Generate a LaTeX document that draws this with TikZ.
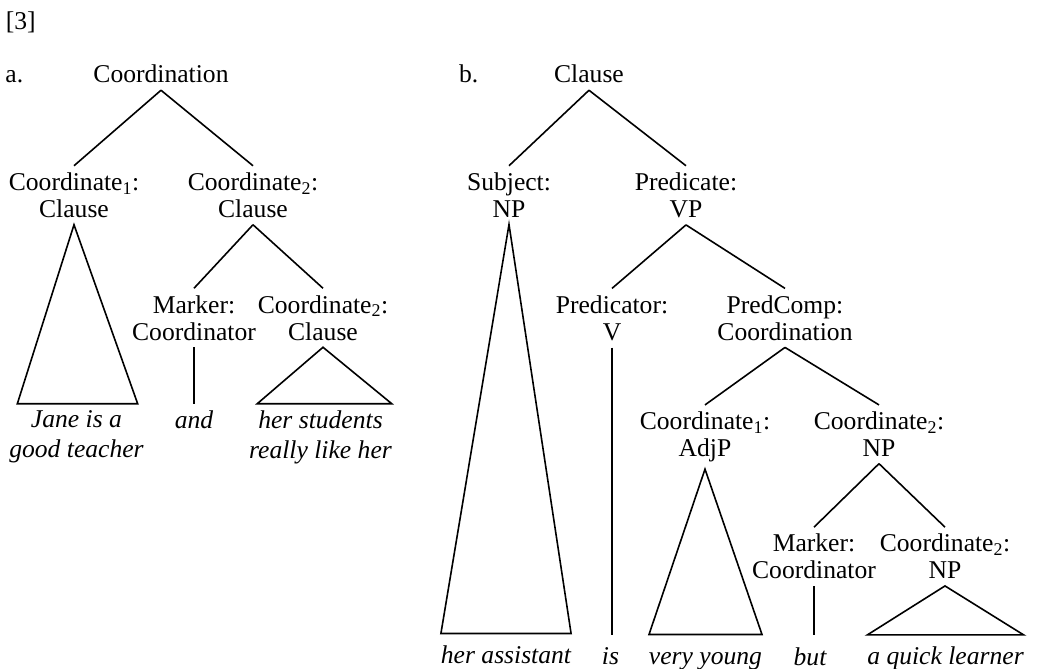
\documentclass[tikz,border=0pt]{standalone}
\usepackage{fontspec}
\setmainfont{Liberation Serif}
\usepackage{tikz}
\usetikzlibrary{positioning}

\tikzset{
  syn/.style={align=center, inner xsep=0pt, inner ysep=7pt, outer sep=0pt},
  leaf/.style={align=center, inner xsep=0pt, inner ysep=7pt, outer sep=0pt,
    font=\fontsize{25.6}{30}\selectfont\itshape},
  word/.style={leaf, text height=17.5pt, text depth=5.5pt, inner ysep=12.5pt}
}

\begin{document}
\begin{tikzpicture}[x=1pt, y=1pt, line width=1.6pt,
    every node/.style={font=\fontsize{25.6}{27}\selectfont}]
    \useasboundingbox (0,0) rectangle (1037,-669);
    \node[anchor=base west, inner sep=0pt] (num) at (5,-29.5) {[3]};

    % tree a
    \node[syn, anchor=base] (rootA) at (161,-83) {Coordination};
    \node[inner sep=0pt, base left=69.5pt of rootA] (tagA) {a.};
    \node[syn, below=75.5pt of rootA, xshift=-87pt] (coordA) {Coordinate\textsubscript{1}:\\Clause};
    \node[syn, below=75.5pt of rootA, xshift=92pt] (coordB) {Coordinate\textsubscript{2}:\\Clause};
    \node[syn, below=63.5pt of coordB, xshift=-59pt] (markA) {Marker:\\Coordinator};
    \node[syn, below=63.5pt of coordB, xshift=70pt] (coordC) {Coordinate\textsubscript{2}:\\Clause};
    \node[leaf, below=179pt of coordA, xshift=2.5pt] (jane) {Jane is a\\good teacher};
    \node[word, inner ysep=7pt, below=56.5pt of markA] (and) {and};
    \node[leaf, below=56.5pt of coordC, xshift=-2.5pt] (studs) {her students\\really like her};

    \draw (rootA.south) -- (coordA.north);
    \draw (rootA.south) -- (coordB.north);
    \draw (coordB.south) -- (markA.north);
    \draw (coordB.south) -- (coordC.north);
    \draw (coordA.south) -- ([xshift=8pt]jane.north west) -- ([xshift=-6pt]jane.north east) -- cycle;
    \draw (markA.south) -- (markA.south |- and.north);
    \draw (coordC.south) -- ([xshift=8pt]studs.north west) -- (studs.north east) -- cycle;

    % tree b
    \node[syn, anchor=base] (rootB) at (589,-83) {Clause};
    \node[inner sep=0pt, base left=75pt of rootB] (tagB) {b.};
    \node[syn, below=75.5pt of rootB, xshift=-80pt] (subj) {Subject:\\NP};
    \node[syn, below=75.5pt of rootB, xshift=97pt] (pred) {Predicate:\\VP};
    \node[syn, below=63.5pt of pred, xshift=-74pt] (predtor) {Predicator:\\V};
    \node[syn, below=63.5pt of pred, xshift=99pt] (pcomp) {PredComp:\\Coordination};
    \node[syn, below=57.5pt of pcomp, xshift=-80pt] (coordD) {Coordinate\textsubscript{1}:\\AdjP};
    \node[syn, below=57.5pt of pcomp, xshift=94pt] (coordE) {Coordinate\textsubscript{2}:\\NP};
    \node[syn, below=63.5pt of coordE, xshift=-65pt] (markB) {Marker:\\Coordinator};
    \node[syn, below=63.5pt of coordE, xshift=66pt] (coordF) {Coordinate\textsubscript{2}:\\NP};
    \node[word, below=409pt of subj, xshift=-3pt] (assist) {her assistant};
    \node[word, below=287pt of predtor, xshift=-1.5pt] (is) {is};
    \node[word, below=165.4pt of coordD, xshift=0.5pt] (young) {very young};
    \node[word, below=49pt of markB, xshift=-4pt] (but) {but};
    \node[word, below=49pt of coordF, xshift=0.5pt] (learner) {a quick learner};

    \draw (rootB.south) -- (subj.north);
    \draw (rootB.south) -- (pred.north);
    \draw (pred.south) -- (predtor.north);
    \draw (pred.south) -- (pcomp.north);
    \draw (pcomp.south) -- (coordD.north);
    \draw (pcomp.south) -- (coordE.north);
    \draw (coordE.south) -- (markB.north);
    \draw (coordE.south) -- (coordF.north);
    \draw (subj.south) -- (assist.north west) -- (assist.north east) -- cycle;
    \draw (predtor.south) -- (predtor.south |- is.north);
    \draw (coordD.south) -- (young.north west) -- (young.north east) -- cycle;
    \draw (markB.south) -- (markB.south |- but.north);
    \draw (coordF.south) -- (learner.north west) -- (learner.north east) -- cycle;
\end{tikzpicture}
\end{document}
